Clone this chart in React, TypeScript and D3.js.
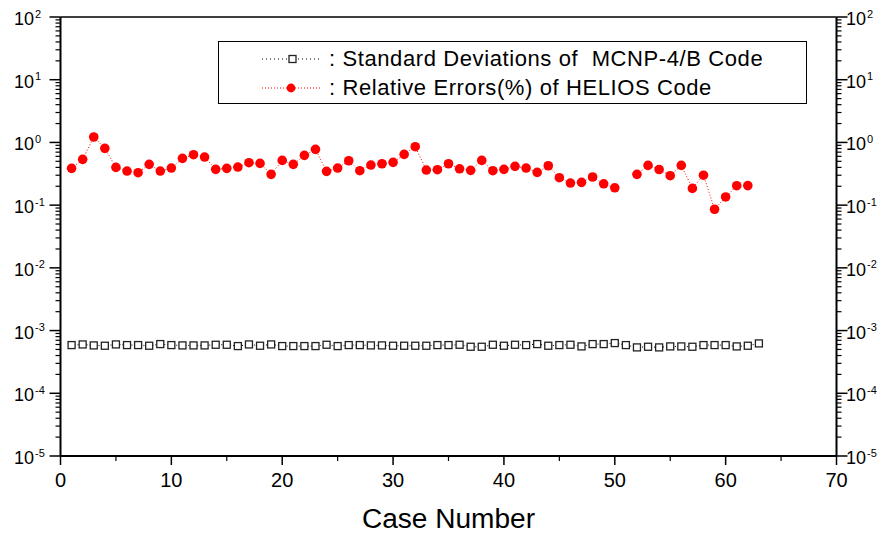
import React from 'react'
import * as d3 from 'd3'

// case numbers
const cases = d3.range(1, 64)

// standard deviations of MCNP-4/B (x 1e-4)
const mcnpStd = [
  5.87, 6.01, 5.80, 5.73, 6.01, 5.87, 5.87, 5.73, 6.09, 5.87,
  5.80, 5.80, 5.80, 5.94, 5.94, 5.66, 6.01, 5.73, 6.01, 5.66,
  5.66, 5.66, 5.66, 5.94, 5.66, 5.87, 5.87, 5.80, 5.80, 5.73,
  5.73, 5.73, 5.73, 5.87, 5.87, 5.94, 5.52, 5.52, 5.94, 5.73,
  5.94, 5.87, 6.09, 5.73, 5.87, 5.94, 5.59, 6.09, 6.09, 6.32,
  5.87, 5.39, 5.52, 5.39, 5.59, 5.59, 5.52, 5.87, 5.87, 5.87,
  5.59, 5.73, 6.24,
].map(v => v * 1e-4)

// relative errors (%) of HELIOS, case 51 missing
const heliosErr: (number | null)[] = [
  0.386, 0.537, 1.22, 0.805, 0.40, 0.35, 0.329, 0.447, 0.35, 0.39,
  0.557, 0.637, 0.585, 0.372, 0.386, 0.405, 0.475, 0.463, 0.31, 0.517,
  0.447, 0.622, 0.776, 0.346, 0.39, 0.51, 0.354, 0.436, 0.457, 0.481,
  0.646, 0.855, 0.363, 0.367, 0.457, 0.38, 0.359, 0.517, 0.354, 0.372,
  0.416, 0.39, 0.333, 0.425, 0.274, 0.225, 0.231, 0.281, 0.219, 0.189,
  null, 0.31, 0.43, 0.37, 0.295, 0.43, 0.185, 0.30, 0.086, 0.135,
  0.204, 0.205,
]

const xTicks = [0, 10, 20, 30, 40, 50, 60, 70]
const yExps = [-5, -4, -3, -2, -1, 0, 1, 2]

const legendLabels = [
  ': Standard Deviations of  MCNP-4/B Code',
  ': Relative Errors(%) of HELIOS Code',
]

const W = 885, H = 533
const left = 60.5, right = 836.5, top = 17, bottom = 456
const font = '"Liberation Sans", Arial, sans-serif'

export default function App() {
  const x = d3.scaleLinear().domain([0, 70]).range([left, right])
  const y = d3.scaleLog().domain([1e-5, 1e2]).range([bottom, top])

  const line = d3.line<[number, number | null]>()
    .defined(d => d[1] != null)
    .x(d => x(d[0]))
    .y(d => y(d[1] as number))

  const mcnpPts = cases.map((c, i) => [c, mcnpStd[i]] as [number, number])
  const helPts = heliosErr.map((v, i) => [cases[i], v] as [number, number | null])

  const majorY = yExps.map(e => Math.pow(10, e))
  const minorY = y.ticks().filter(t => !majorY.some(m => Math.abs(t - m) < m * 1e-6))
  const minorX = d3.range(5, 70, 10)

  return (
    <svg width={W} height={H} style={{ position: 'absolute', left: 0, top: 0, background: '#fff' }}>
      <g fontFamily={font} fill="#000">
        {/* frame */}
        <line x1={left} x2={right} y1={top} y2={top} stroke="#000" strokeWidth={1.5} />
        <line x1={left} x2={right} y1={bottom} y2={bottom} stroke="#000" strokeWidth={2} />
        <line x1={left} x2={left} y1={top} y2={bottom} stroke="#000" strokeWidth={2} />
        <line x1={right} x2={right} y1={top} y2={bottom} stroke="#000" strokeWidth={2} />

        {/* y ticks both sides */}
        {majorY.map(t => (
          <g key={'my' + t}>
            <line x1={left - 11} x2={left} y1={y(t)} y2={y(t)} stroke="#000" strokeWidth={1.5} />
            <line x1={right} x2={right + 11} y1={y(t)} y2={y(t)} stroke="#000" strokeWidth={1.5} />
          </g>
        ))}
        {minorY.map(t => (
          <g key={'ny' + t}>
            <line x1={left - 5} x2={left} y1={y(t)} y2={y(t)} stroke="#000" strokeWidth={1.2} />
            <line x1={right} x2={right + 5} y1={y(t)} y2={y(t)} stroke="#000" strokeWidth={1.2} />
          </g>
        ))}
        {yExps.map(e => (
          <g key={'ly' + e}>
            <text x={34} y={y(Math.pow(10, e)) + 8} fontSize={18} textAnchor="end">10</text>
            <text x={35} y={y(Math.pow(10, e)) + 0.5} fontSize={11}>{e}</text>
            <text x={846} y={y(Math.pow(10, e)) + 8} fontSize={18}>10</text>
            <text x={867} y={y(Math.pow(10, e)) + 0.5} fontSize={11}>{e}</text>
          </g>
        ))}

        {/* x ticks */}
        {xTicks.map(t => (
          <g key={'x' + t}>
            <line x1={x(t)} x2={x(t)} y1={bottom} y2={bottom + 9} stroke="#000" strokeWidth={1.5} />
            <text x={x(t)} y={487} fontSize={20} textAnchor="middle">{t}</text>
          </g>
        ))}
        {minorX.map(t => (
          <line key={'nx' + t} x1={x(t)} x2={x(t)} y1={bottom} y2={bottom + 5} stroke="#000" strokeWidth={1.2} />
        ))}
        <text x={(left + right) / 2} y={528} fontSize={27} textAnchor="middle" textLength={173} lengthAdjust="spacingAndGlyphs">Case Number</text>

        {/* MCNP series */}
        <path d={line(mcnpPts) || ''} fill="none" stroke="#000" strokeWidth={1} strokeDasharray="1,2" />
        {mcnpPts.map(d => (
          <rect key={'s' + d[0]} x={x(d[0]) - 3.5} y={y(d[1]) - 3.5} width={7} height={7} fill="#fff" stroke="#222" strokeWidth={1.3} />
        ))}

        {/* HELIOS series */}
        <path d={line(helPts) || ''} fill="none" stroke="#f00" strokeWidth={1} strokeDasharray="1,2" />
        {helPts.filter(d => d[1] != null).map(d => (
          <circle key={'c' + d[0]} cx={x(d[0])} cy={y(d[1] as number)} r={4.8} fill="#f00" />
        ))}

        {/* legend */}
        <rect x={218.5} y={41.5} width={588} height={62} fill="#fff" stroke="#000" strokeWidth={1} />
        <line x1={262} x2={322} y1={59} y2={59} stroke="#000" strokeWidth={1} strokeDasharray="1,3" />
        <rect x={289} y={55.5} width={7} height={7} fill="#fff" stroke="#222" strokeWidth={1.3} />
        <line x1={262} x2={322} y1={88} y2={88} stroke="#f00" strokeWidth={1} strokeDasharray="1,2" />
        <circle cx={291} cy={88} r={4.4} fill="#f00" />
        <text x={329} y={66} fontSize={22} letterSpacing={0.6} style={{ whiteSpace: 'pre' }}>{legendLabels[0]}</text>
        <text x={329} y={95} fontSize={22} letterSpacing={0.6} style={{ whiteSpace: 'pre' }}>{legendLabels[1]}</text>
      </g>
    </svg>
  )
}
